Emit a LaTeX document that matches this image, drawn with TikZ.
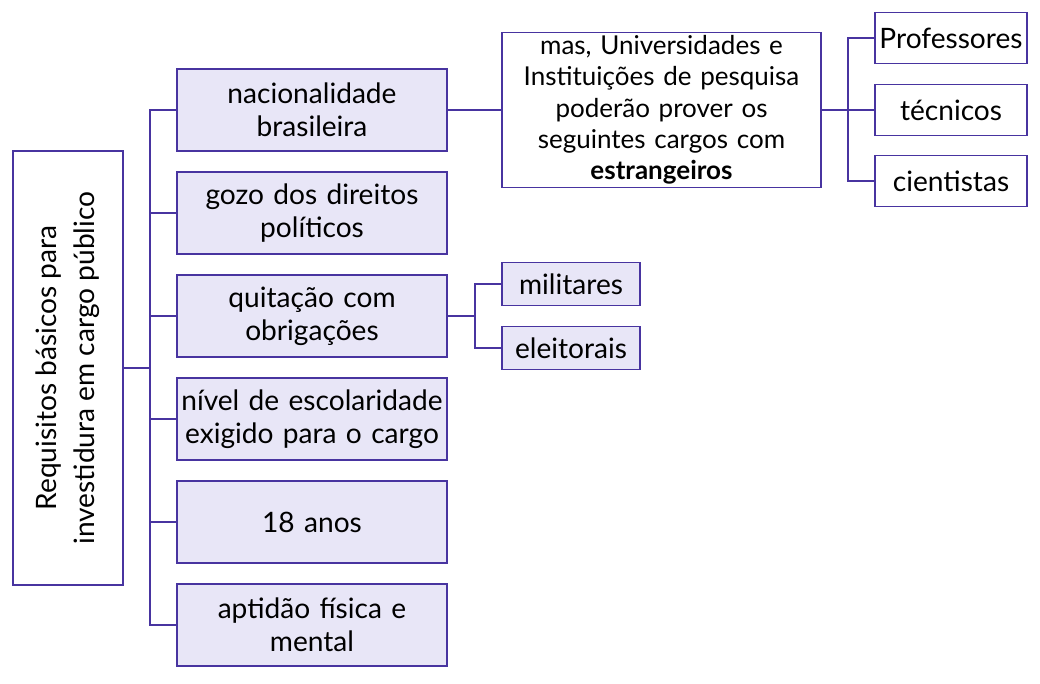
\documentclass[tikz,border=0pt]{standalone}
\usepackage{fontspec}
\setmainfont{Lato}
\definecolor{boxline}{RGB}{72,52,160}
\definecolor{boxfill}{RGB}{232,230,247}

\begin{document}
\begin{tikzpicture}[x=0.02cm, y=-0.02cm,
  base/.style={draw=boxline, line width=1.1pt, inner sep=0pt, align=center,
    font=\fontsize{16}{18.7}\selectfont},
  lbox/.style={base, fill=boxfill, minimum width=5.4cm, minimum height=1.64cm, text width=5.3cm},
  rbox/.style={base, fill=white, minimum width=3.04cm, minimum height=1.02cm},
  sbox/.style={base, fill=boxfill, minimum width=2.76cm, minimum height=0.86cm},
  link/.style={draw=boxline, line width=1.1pt}]

  \useasboundingbox (0,0) rectangle (1040,683);

  % root box
  \node [base, fill=white, rotate=90, minimum width=8.68cm, minimum height=2.2cm,
    font=\fontsize{16}{21.5}\selectfont] (root) at (68,368)
    {Requisitos básicos para\\investidura em cargo público};

  % left column
  \node [lbox] (nac) at (312,110) {nacionalidade\\brasileira};
  \node [lbox] (gozo) at (312,213) {gozo dos direitos\\políticos};
  \node [lbox] (quit) at (312,316) {quitação com\\obrigações};
  \node [lbox] (esc) at (312,419) {nível de escolaridade\\exigido para o cargo};
  \node [lbox] (idade) at (312,522) {18 anos};
  \node [lbox] (apt) at (312,625) {aptidão física e\\mental};

  % trunk
  \coordinate (trunk) at (150,368);
  \draw [link] (root.south) -- (trunk);
  \foreach \n in {nac,gozo,quit,esc,idade,apt}
    \draw [link] (trunk) |- (\n.west);

  % estrangeiros
  \node [base, fill=white, minimum width=6.38cm, minimum height=3.1cm, text width=6.3cm,
    font=\fontsize{14.8}{17.8}\selectfont] (mas) at (661.5,110)
    {mas, Universidades e\\Instituições de pesquisa\\poderão prover os\\seguintes cargos com\\\textbf{estrangeiros}};
  \draw [link] (nac.east) -- (mas.west);

  % cargos
  \node [rbox] (prof) at (951,38) {Professores};
  \node [rbox] (tec) at (951,110) {técnicos};
  \node [rbox] (cient) at (951,181) {cientistas};
  \coordinate (jmas) at (848,110);
  \draw [link] (mas.east) -- (jmas);
  \foreach \n in {prof,tec,cient}
    \draw [link] (jmas) |- (\n.west);

  % obrigacoes
  \node [sbox] (mil) at (571,284) {militares};
  \node [sbox] (ele) at (571,348) {eleitorais};
  \coordinate (jquit) at (475,316);
  \draw [link] (quit.east) -- (jquit);
  \foreach \n in {mil,ele}
    \draw [link] (jquit) |- (\n.west);

\end{tikzpicture}
\end{document}
